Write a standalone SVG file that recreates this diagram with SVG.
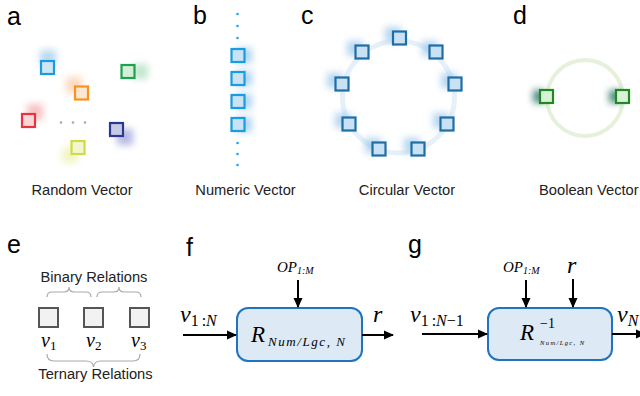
<svg xmlns="http://www.w3.org/2000/svg" width="640" height="396" viewBox="0 0 640 396">
<defs>
<filter id="blur" x="-100%" y="-100%" width="300%" height="300%"><feGaussianBlur stdDeviation="3.5"/></filter>
<marker id="arr" viewBox="0 0 10 10" refX="9" refY="5" markerWidth="10" markerHeight="10" markerUnits="userSpaceOnUse" orient="auto"><path d="M0,0.5 L10,5 L0,9.5 z" fill="#000"/></marker>
<style>
.lbl{font-family:"Liberation Sans",Arial,sans-serif;font-size:25px;fill:#000}
.cap{font-family:"Liberation Sans",Arial,sans-serif;font-size:14.7px;fill:#222}
.m{font-family:"Liberation Serif","Times New Roman",serif;font-style:italic;fill:#000}
.n{font-family:"Liberation Serif","Times New Roman",serif;font-style:normal;fill:#000}
.sq{stroke-width:2.2}
.glow{filter:url(#blur)}
.brace{fill:none;stroke:#aaa;stroke-width:1.2}
.box{fill:#dde9f5;stroke:#1f74bd;stroke-width:2}
.ln{stroke:#000;stroke-width:2;fill:none;marker-end:url(#arr)}
</style>
</defs>

<!-- Panel labels -->
<g id="labels">
<text class="lbl" x="7" y="25">a</text>
<text class="lbl" x="193" y="24">b</text>
<text class="lbl" x="301" y="24">c</text>
<text class="lbl" x="513" y="24">d</text>
<text class="lbl" x="7" y="253">e</text>
<text class="lbl" x="186" y="256">f</text>
<text class="lbl" x="408" y="253">g</text>
</g>

<!-- Panel a: Random Vector -->
<g id="random-vector">
<rect class="glow" x="40" y="50" width="16" height="15" fill="#9ccbee" opacity="0.7"/>
<rect class="glow" x="133" y="64" width="15" height="15" fill="#a9dcb9" opacity="0.7"/>
<rect class="glow" x="66" y="77" width="16" height="16" fill="#fbc9a2" opacity="0.7"/>
<rect class="glow" x="27" y="104" width="16" height="16" fill="#f3a8a8" opacity="0.7"/>
<rect class="glow" x="117" y="129" width="16" height="16" fill="#a3a9dc" opacity="0.8"/>
<rect class="glow" x="62" y="147" width="16" height="16" fill="#eef3b8" opacity="0.8"/>
<rect class="sq" x="41" y="61" width="13" height="13" fill="#cfe6f7" stroke="#1a9de0"/>
<rect class="sq" x="121.5" y="65" width="13" height="13" fill="#d3efdc" stroke="#1aa34a"/>
<rect class="sq" x="75" y="86.5" width="13" height="13" fill="#fde6d2" stroke="#f7931e"/>
<rect class="sq" x="22" y="114" width="13" height="13" fill="#f9d6d8" stroke="#e8343e"/>
<rect class="sq" x="110" y="123" width="13" height="13" fill="#c6cae6" stroke="#2b3990"/>
<rect class="sq" x="71.5" y="141" width="13" height="13" fill="#f3f6d0" stroke="#cfdc45"/>
<circle cx="61" cy="122.5" r="1.3" fill="#aaa"/>
<circle cx="73" cy="122.5" r="1.3" fill="#aaa"/>
<circle cx="85" cy="122.5" r="1.3" fill="#aaa"/>
<text class="cap" x="82" y="195" text-anchor="middle">Random Vector</text>
</g>

<!-- Panel b: Numeric Vector -->
<g id="numeric-vector">
<rect class="glow" x="236" y="48" width="16" height="15" fill="#9ccbee" opacity="0.8"/>
<rect class="glow" x="236" y="71" width="16" height="15" fill="#9ccbee" opacity="0.8"/>
<rect class="glow" x="236" y="94" width="16" height="15" fill="#9ccbee" opacity="0.8"/>
<rect class="glow" x="236" y="117" width="16" height="15" fill="#9ccbee" opacity="0.8"/>
<rect class="sq" x="231.5" y="49" width="13" height="13" fill="#c9e2f4" stroke="#1a9de0"/>
<rect class="sq" x="231.5" y="72" width="13" height="13" fill="#c9e2f4" stroke="#1a9de0"/>
<rect class="sq" x="231.5" y="95" width="13" height="13" fill="#c9e2f4" stroke="#1a9de0"/>
<rect class="sq" x="231.5" y="118" width="13" height="13" fill="#c9e2f4" stroke="#1a9de0"/>
<g fill="#29a3e8">
<circle cx="237.5" cy="14" r="1.3"/><circle cx="237.5" cy="26" r="1.3"/><circle cx="237.5" cy="38" r="1.3"/>
<circle cx="237.5" cy="143" r="1.3"/><circle cx="237.5" cy="154" r="1.3"/><circle cx="237.5" cy="165" r="1.3"/>
</g>
<text class="cap" x="245.5" y="195" text-anchor="middle">Numeric Vector</text>
</g>

<!-- Panel c: Circular Vector -->
<g id="circular-vector">
<circle cx="398.5" cy="97" r="56" fill="none" stroke="#e6f0f9" stroke-width="5"/>
<g fill="#9cc8ec" opacity="0.75">
<rect class="glow" x="385" y="27" width="16" height="15"/>
<rect class="glow" x="422" y="41" width="16" height="15"/>
<rect class="glow" x="441" y="73" width="16" height="15"/>
<rect class="glow" x="433" y="113" width="16" height="15"/>
<rect class="glow" x="404" y="138" width="16" height="15"/>
<rect class="glow" x="365" y="138" width="16" height="15"/>
<rect class="glow" x="335" y="113" width="16" height="15"/>
<rect class="glow" x="327" y="73" width="16" height="15"/>
<rect class="glow" x="347" y="41" width="16" height="15"/>
</g>
<g fill="#c8e1f5" stroke="#1f6ea3">
<rect class="sq" x="393" y="31.5" width="13" height="13"/>
<rect class="sq" x="429.5" y="45.5" width="13" height="13"/>
<rect class="sq" x="448.5" y="77.5" width="13" height="13"/>
<rect class="sq" x="440.5" y="117.5" width="13" height="13"/>
<rect class="sq" x="411.5" y="142.5" width="13" height="13"/>
<rect class="sq" x="372.5" y="142.5" width="13" height="13"/>
<rect class="sq" x="342.5" y="117.5" width="13" height="13"/>
<rect class="sq" x="335.5" y="77.5" width="13" height="13"/>
<rect class="sq" x="355.5" y="45.5" width="13" height="13"/>
</g>
<text class="cap" x="407" y="195" text-anchor="middle">Circular Vector</text>
</g>

<!-- Panel d: Boolean Vector -->
<g id="boolean-vector">
<circle cx="585" cy="98" r="38" fill="none" stroke="#e6f1dc" stroke-width="4"/>
<rect class="glow" x="533" y="90" width="12" height="13" fill="#2e7d6b" opacity="0.85"/>
<rect class="glow" x="609" y="90" width="12" height="13" fill="#2e7d6b" opacity="0.85"/>
<rect class="sq" x="540" y="90" width="13" height="13" fill="#d8f1d8" stroke="#1f8a1f"/>
<rect class="sq" x="616" y="90" width="13" height="13" fill="#d8f1d8" stroke="#1f8a1f"/>
<text class="cap" x="539" y="195">Boolean Vector</text>
</g>

<!-- Panel e: relations -->
<g id="relations">
<text class="cap" x="94" y="282" text-anchor="middle">Binary Relations</text>
<path class="brace" d="M47,297 Q47,292 52,292 L64,292 Q69,292 69,287 Q69,292 74,292 L86,292 Q91,292 91,297"/>
<path class="brace" d="M97,297 Q97,292 102,292 L114,292 Q119,292 119,287 Q119,292 124,292 L136,292 Q141,292 141,297"/>
<g fill="#f2f2f2" stroke="#555" stroke-width="2">
<rect x="39" y="308" width="19" height="19"/>
<rect x="84" y="308" width="19" height="19"/>
<rect x="130" y="308" width="19" height="19"/>
</g>
<text class="m" x="41" y="347" font-size="20">v<tspan class="n" font-size="13" dy="3">1</tspan></text>
<text class="m" x="86" y="347" font-size="20">v<tspan class="n" font-size="13" dy="3">2</tspan></text>
<text class="m" x="131" y="347" font-size="20">v<tspan class="n" font-size="13" dy="3">3</tspan></text>
<path class="brace" d="M47,354 Q47,361 54,361 L86,361 Q93,361 93.5,367 Q94,361 101,361 L133,361 Q140,361 140,354"/>
<text class="cap" x="95.5" y="379" text-anchor="middle">Ternary Relations</text>
</g>

<!-- Panel f -->
<g id="forward-box">
<rect class="box" x="237" y="308" width="125" height="53" rx="11"/>
<text class="m" x="251" y="342" font-size="23">R</text>
<text class="m" x="268" y="346" font-size="13" textLength="77" lengthAdjust="spacing">Num/Lgc, N</text>
</g>
<g id="forward-labels">
<text class="m" x="277" y="272" font-size="15">OP<tspan font-size="10" dy="2">1:M</tspan></text>
<text class="m" x="180" y="322" font-size="24">v<tspan class="n" font-size="16" dy="4">1</tspan><tspan class="n" font-size="16" dx="3">:</tspan><tspan font-size="16">N</tspan></text>
<text class="m" x="373" y="322" font-size="24">r</text>
</g>

<!-- Panel g -->
<g id="inverse-box">
<rect class="box" x="488" y="308" width="124" height="52" rx="11"/>
<text class="m" x="520" y="340" font-size="23">R</text>
<text class="n" x="540" y="328" font-size="14">−1</text>
<text class="m" x="540" y="345" font-size="6.5" textLength="44" lengthAdjust="spacing">Num/Lgc, N</text>
</g>
<g id="inverse-labels">
<text class="m" x="503" y="272" font-size="15">OP<tspan font-size="10" dy="2">1:M</tspan></text>
<text class="m" x="567" y="273" font-size="24">r</text>
<text class="m" x="410" y="322" font-size="24">v<tspan class="n" font-size="16" dy="4">1</tspan><tspan class="n" font-size="16" dx="3">:</tspan><tspan font-size="16">N</tspan><tspan class="n" font-size="16">−1</tspan></text>
<text class="m" x="617" y="322" font-size="24">v<tspan font-size="16" dy="4">N</tspan></text>
</g>

<!-- Connectors -->
<g id="connectors">
<line class="ln" x1="183" y1="335" x2="236" y2="335"/>
<line class="ln" x1="362" y1="335" x2="393" y2="335"/>
<line class="ln" x1="298" y1="280" x2="298" y2="307"/>
<line class="ln" x1="422" y1="334" x2="487" y2="334"/>
<line class="ln" x1="612" y1="334" x2="645" y2="334"/>
<line class="ln" x1="526" y1="280" x2="526" y2="307"/>
<line class="ln" x1="573" y1="279" x2="573" y2="307"/>
</g>
</svg>
